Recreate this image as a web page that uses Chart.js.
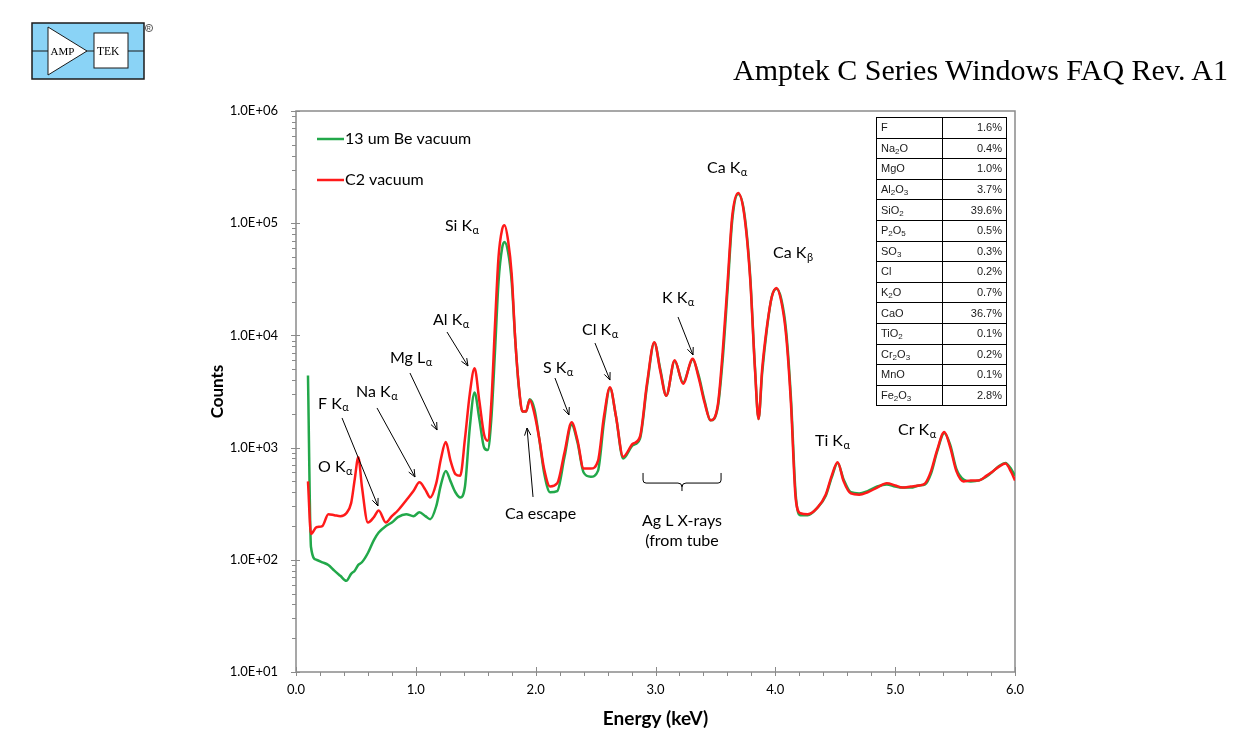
<!DOCTYPE html>
<html>
<head>
<meta charset="utf-8">
<title>Amptek C Series Windows FAQ</title>
<script src="https://cdn.jsdelivr.net/npm/chart.js@4.4.0/dist/chart.umd.min.js"></script>
<style>
  html, body { margin: 0; padding: 0; background: #fff; }
  #wrap { position: relative; width: 1254px; height: 738px; overflow: hidden; }
  #chart { position: absolute; left: 0; top: 0; }
  #logo { position: absolute; left: 0; top: 0; }
  #title { position: absolute; right: 26px; top: 55px; font-family: "Liberation Serif", "Times New Roman", serif;
           font-size: 30px; line-height: 30px; color: #000; white-space: nowrap; }
  #comp { position: absolute; left: 876px; top: 117px; width: 130px; border-collapse: collapse; table-layout: fixed;
          font-family: "Liberation Sans", Arial, sans-serif; font-size: 11px; color: #1a1a1a; }
  #comp td { border: 1px solid #000; height: 19.6px; padding: 0 4px; line-height: 11px; }
  #comp td.v { text-align: right; }
  #comp sub { font-size: 8px; vertical-align: -2px; line-height: 0; }
</style>
</head>
<body>
<div id="wrap">
  <canvas id="chart" width="1254" height="738"></canvas>
  <svg id="logo" width="170" height="90" xmlns="http://www.w3.org/2000/svg">
    <rect x="32" y="23" width="112" height="56" fill="#8ad3f6" stroke="#1b1b1b" stroke-width="1.5"/>
    <line x1="32" y1="51" x2="144" y2="51" stroke="#1b1b1b" stroke-width="1"/>
    <polygon points="48,27 48,75 87,51" fill="#fff" stroke="#1b1b1b" stroke-width="1"/>
    <text x="50.5" y="55" font-family="Liberation Serif, serif" font-size="11">AMP</text>
    <rect x="94" y="33" width="34" height="35" fill="#fff" stroke="#1b1b1b" stroke-width="1"/>
    <text x="97" y="55" font-family="Liberation Serif, serif" font-size="11.5">TEK</text>
    <circle cx="149" cy="28" r="3.6" fill="none" stroke="#333" stroke-width="0.8"/>
    <text x="146.8" y="30.3" font-family="Liberation Sans, sans-serif" font-size="5.5" fill="#333">R</text>
  </svg>
  <div id="title">Amptek C Series Windows FAQ Rev. A1</div>
  <table id="comp"><colgroup><col style="width:66px"><col style="width:64px"></colgroup><tbody id="compBody"></tbody></table>
</div>
<script>
"use strict";

// energy axis (keV) shared by both spectra
var energy = [
    0.10, 0.125, 0.17, 0.22, 0.27, 0.32, 0.37, 0.42, 0.46, 0.49,
    0.52, 0.55, 0.60, 0.65, 0.69, 0.75, 0.80, 0.85, 0.92, 0.98,
    1.03, 1.08, 1.12, 1.17, 1.21, 1.25, 1.29, 1.33, 1.37, 1.41,
    1.45, 1.49, 1.53, 1.57, 1.60, 1.63, 1.66, 1.69, 1.72, 1.74,
    1.77, 1.80, 1.83, 1.86, 1.89, 1.92, 1.95, 1.99, 2.03, 2.07,
    2.12, 2.18, 2.24, 2.30, 2.35, 2.40, 2.46, 2.52, 2.57, 2.62,
    2.67, 2.73, 2.81, 2.87, 2.93, 2.99, 3.04, 3.09, 3.16, 3.23,
    3.31, 3.36, 3.41, 3.46, 3.52, 3.56, 3.60, 3.64, 3.69, 3.74,
    3.79, 3.83, 3.86, 3.89, 3.93, 3.97, 4.01, 4.05, 4.09, 4.13,
    4.17, 4.21, 4.27, 4.35, 4.42, 4.47, 4.52, 4.57, 4.63, 4.70,
    4.77, 4.85, 4.93, 5.00, 5.06, 5.13, 5.20, 5.25, 5.30, 5.35,
    5.41, 5.46, 5.51, 5.57, 5.63, 5.70, 5.76, 5.82, 5.87, 5.92,
    5.97, 6.00
];

// 13 um Be window, vacuum
var countsBe = [
    4400, 130, 100, 95, 90, 80, 72, 65, 75, 80,
    90, 95, 115, 150, 175, 200, 215, 240, 255, 245,
    265, 245, 230, 300, 470, 620, 500, 400, 360, 450,
    1500, 3100, 1800, 1000, 950, 1800, 7000, 30000, 60000, 68000,
    55000, 30000, 9000, 3400, 2100, 2100, 2700, 2200, 1200, 600,
    400, 410, 820, 1600, 1100, 600, 550, 620, 1700, 3400,
    1900, 800, 1050, 1200, 3600, 8600, 5000, 2900, 5900, 3800,
    6100, 4400, 2600, 1750, 2300, 6000, 24000, 105000, 182000, 125000,
    34000, 5200, 1800, 4600, 11500, 22000, 26000, 21000, 11000, 2800,
    380, 250, 250, 290, 370, 540, 730, 520, 400, 390,
    410, 450, 470, 450, 440, 440, 460, 470, 590, 920,
    1350, 1050, 650, 520, 500, 510, 550, 620, 690, 730,
    640, 560
];

// C2 window, vacuum
var countsC2 = [
    500, 170, 195, 200, 255, 250, 245, 260, 320, 520,
    820, 450, 215, 240, 275, 215, 245, 275, 340, 410,
    490, 420, 360, 480, 800, 1120, 760, 580, 560, 1200,
    3000, 5100, 2600, 1300, 1150, 2500, 12000, 50000, 88000, 96000,
    70000, 35000, 9000, 3500, 2100, 2100, 2650, 2000, 1200, 650,
    450, 480, 900, 1680, 1150, 650, 650, 760, 1900, 3450,
    1900, 830, 1080, 1250, 3800, 8700, 4800, 2900, 6000, 3700,
    6200, 4200, 2500, 1750, 2400, 7000, 28000, 115000, 186000, 120000,
    32000, 5000, 1800, 5000, 12000, 22000, 26500, 20000, 10000, 2500,
    350, 260, 255, 290, 380, 560, 740, 500, 390, 380,
    400, 440, 480, 460, 440, 450, 460, 480, 620, 950,
    1380, 1000, 620, 500, 510, 510, 560, 620, 680, 720,
    600, 510
];

var xTickValues = [0, 1, 2, 3, 4, 5, 6];
var yTickValues = [10, 100, 1000, 10000, 100000, 1000000];

// sample composition
var compounds = ['F', 'Na<sub>2</sub>O', 'MgO', 'Al<sub>2</sub>O<sub>3</sub>', 'SiO<sub>2</sub>', 'P<sub>2</sub>O<sub>5</sub>',
    'SO<sub>3</sub>', 'Cl', 'K<sub>2</sub>O', 'CaO', 'TiO<sub>2</sub>', 'Cr<sub>2</sub>O<sub>3</sub>', 'MnO', 'Fe<sub>2</sub>O<sub>3</sub>'];
var percents = [1.6, 0.4, 1.0, 3.7, 39.6, 0.5, 0.3, 0.2, 0.7, 36.7, 0.1, 0.2, 0.1, 2.8];

var body = document.getElementById('compBody');
compounds.forEach(function (c, i) {
    var tr = document.createElement('tr');
    tr.innerHTML = '<td>' + c + '</td><td class="v">' + percents[i].toFixed(1) + '%</td>';
    body.appendChild(tr);
});

function toPoints(ys) {
    return energy.map(function (e, i) { return { x: e, y: ys[i] }; });
}

var FONT = 'Lato, "Open Sans", sans-serif';
Chart.defaults.font.family = FONT;
Chart.defaults.color = '#000';

var axisFrame = {
    id: 'axisFrame',
    beforeDatasetsDraw: function (chart) {
        var ctx = chart.ctx, a = chart.chartArea, x = chart.scales.x, y = chart.scales.y;
        ctx.save();
        ctx.strokeStyle = '#8a8a8a';
        ctx.lineWidth = 1.5;
        ctx.strokeRect(a.left, a.top, a.right - a.left, a.bottom - a.top);
        ctx.lineWidth = 1;
        ctx.beginPath();
        yTickValues.forEach(function (v, k) {
            var p = Math.round(y.getPixelForValue(v)) + 0.5;
            ctx.moveTo(a.left - 5, p); ctx.lineTo(a.left + 4, p);
            if (k < yTickValues.length - 1) {
                for (var m = 2; m <= 9; m++) {
                    var q = Math.round(y.getPixelForValue(m * v)) + 0.5;
                    ctx.moveTo(a.left - 4, q); ctx.lineTo(a.left, q);
                }
            }
        });
        for (var i = 0; i <= 30; i++) {
            var p = Math.round(x.getPixelForValue(i * 0.2)) + 0.5;
            if (i % 5 === 0) { ctx.moveTo(p, a.bottom - 5); ctx.lineTo(p, a.bottom + 4); }
            else { ctx.moveTo(p, a.bottom); ctx.lineTo(p, a.bottom + 4); }
        }
        ctx.stroke();
        ctx.restore();
    }
};

var notes = {
    id: 'notes',
    afterDatasetsDraw: function (chart) {
        var ctx = chart.ctx, a = chart.chartArea, xs = chart.scales.x, ys = chart.scales.y;
        var px = function (e) { return xs.getPixelForValue(e); };
        var py = function (c) { return ys.getPixelForValue(c); };
        var big = '16px ' + FONT, small = '11px ' + FONT;
        ctx.save();
        ctx.fillStyle = '#000';
        ctx.textBaseline = 'middle';

        // legend
        [['13 um Be vacuum', '#22a84a', 28], ['C2 vacuum', '#ff1a1a', 69]].forEach(function (l) {
            ctx.strokeStyle = l[1];
            ctx.lineWidth = 2.5;
            ctx.beginPath();
            ctx.moveTo(a.left + 21, a.top + l[2]);
            ctx.lineTo(a.left + 48, a.top + l[2]);
            ctx.stroke();
            ctx.font = big;
            ctx.fillText(l[0], a.left + 49, a.top + l[2]);
        });

        // peak labels: text, subscript, energy, counts
        var labels = [
            ['Si K', 'α', 1.243, 94400], ['Al K', 'α', 1.143, 13700], ['Mg L', 'α', 0.784, 6290],
            ['Na K', 'α', 0.501, 3130], ['F K', 'α', 0.184, 2450], ['O K', 'α', 0.184, 671],
            ['Ca escape', '', 1.744, 256], ['S K', 'α', 2.061, 5120], ['Cl K', 'α', 2.387, 11170],
            ['K K', 'α', 3.054, 21540], ['Ca K', 'α', 3.430, 310500], ['Ca K', 'β', 3.981, 54250],
            ['Ti K', 'α', 4.331, 1145], ['Cr K', 'α', 5.024, 1435]
        ];
        ctx.textAlign = 'left';
        labels.forEach(function (l) {
            var x0 = px(l[2]), y0 = py(l[3]);
            ctx.font = big;
            ctx.fillText(l[0], x0, y0);
            if (l[1]) {
                var w = ctx.measureText(l[0]).width;
                ctx.font = small;
                ctx.fillText(l[1], x0 + w + 0.5, y0 + 4);
            }
        });
        ctx.font = big;
        ctx.textAlign = 'center';
        ctx.fillText('Ag L X-rays', px(3.221), py(222));
        ctx.fillText('(from tube', px(3.221), py(147));

        // arrows: from (e, c) to (e, c)
        var arrows = [
            [1.260, 10720, 1.435, 5340], [0.951, 4620, 1.177, 1435], [0.676, 2255, 0.993, 547],
            [0.384, 1837, 0.684, 302], [1.978, 363, 1.928, 1495], [2.161, 4170, 2.278, 1953],
            [2.495, 8550, 2.620, 4000], [3.188, 14590, 3.313, 6690]
        ];
        ctx.strokeStyle = '#000';
        ctx.lineWidth = 1;
        arrows.forEach(function (r) {
            var x1 = px(r[0]), y1 = py(r[1]), x2 = px(r[2]), y2 = py(r[3]);
            var ang = Math.atan2(y2 - y1, x2 - x1), h = 8, sp = 0.4;
            ctx.beginPath();
            ctx.moveTo(x1, y1); ctx.lineTo(x2, y2);
            ctx.moveTo(x2 - h * Math.cos(ang - sp), y2 - h * Math.sin(ang - sp));
            ctx.lineTo(x2, y2);
            ctx.lineTo(x2 - h * Math.cos(ang + sp), y2 - h * Math.sin(ang + sp));
            ctx.stroke();
        });

        // brace under the Ag L lines
        var bl = px(2.896), br = px(3.547), bc = px(3.221);
        var bt = py(594), by = py(483), bn = py(410);
        ctx.beginPath();
        ctx.moveTo(bl, bt);
        ctx.lineTo(bl, by - 3);
        ctx.quadraticCurveTo(bl, by, bl + 3, by);
        ctx.lineTo(bc - 4, by);
        ctx.quadraticCurveTo(bc, by, bc, by + 4);
        ctx.lineTo(bc, bn);
        ctx.moveTo(bc, by + 4);
        ctx.quadraticCurveTo(bc, by, bc + 4, by);
        ctx.lineTo(br - 3, by);
        ctx.quadraticCurveTo(br, by, br, by - 3);
        ctx.lineTo(br, bt);
        ctx.stroke();
        ctx.restore();
    }
};

var spectrum = new Chart(document.getElementById('chart').getContext('2d'), {
    type: 'line',
    data: {
        datasets: [{
            label: '13 um Be vacuum',
            data: toPoints(countsBe),
            borderColor: '#22a84a',
            borderWidth: 2.5,
            pointRadius: 0,
            cubicInterpolationMode: 'monotone',
            order: 2
        }, {
            label: 'C2 vacuum',
            data: toPoints(countsC2),
            borderColor: '#ff1a1a',
            borderWidth: 2.5,
            pointRadius: 0,
            cubicInterpolationMode: 'monotone',
            order: 1
        }]
    },
    options: {
        responsive: false,
        animation: false,
        devicePixelRatio: 1,
        layout: { padding: { top: 111, right: 239, left: 0, bottom: 0 } },
        plugins: { legend: { display: false }, tooltip: { enabled: false } },
        scales: {
            x: {
                type: 'linear',
                min: 0,
                max: 6,
                afterBuildTicks: function (s) { s.ticks = xTickValues.map(function (v) { return { value: v }; }); },
                afterFit: function (s) { s.height = 66; },
                grid: { display: false, drawTicks: false },
                border: { display: false },
                ticks: { padding: 10, font: { size: 13 }, maxRotation: 0, callback: function (v) { return v.toFixed(1); } },
                title: { display: true, text: 'Energy (keV)', font: { size: 19, weight: 'bold' }, padding: { bottom: 8 } }
            },
            y: {
                type: 'logarithmic',
                min: 10,
                max: 1000000,
                afterBuildTicks: function (s) { s.ticks = yTickValues.map(function (v) { return { value: v }; }); },
                afterFit: function (s) { s.width = 296; },
                grid: { display: false, drawTicks: false },
                border: { display: false },
                ticks: {
                    padding: 18, font: { size: 13 },
                    callback: function (v) { return '1.0E+' + String(Math.round(Math.log10(v))).padStart(2, '0'); }
                },
                title: { display: true, text: 'Counts', font: { size: 17, weight: 'bold' }, padding: { top: 207 } }
            }
        }
    },
    plugins: [axisFrame, notes]
});
</script>
</body>
</html>
